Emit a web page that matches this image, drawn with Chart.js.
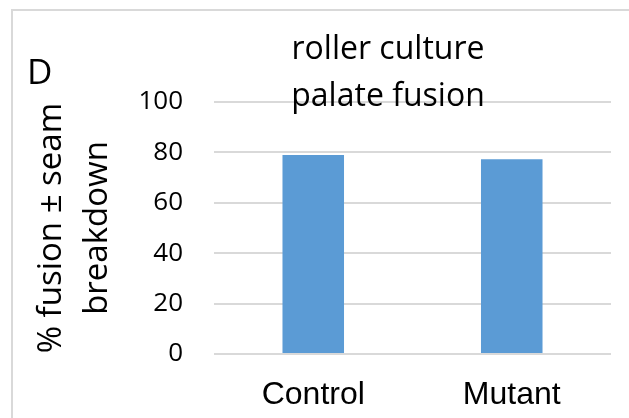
<!DOCTYPE html>
<html lang="en">
<head>
    <meta charset="UTF-8">
    <title>roller culture palate fusion</title>
    <style>
        body {
            margin: 0;
            background: #fff;
        }
        .wrap {
            position: relative;
            width: 629px;
            height: 418px;
            overflow: hidden;
        }
        .frame {
            position: absolute;
            left: 11px;
            top: 9px;
            width: 700px;
            height: 500px;
            border-left: 2px solid #d9d9d9;
            border-top: 2px solid #d9d9d9;
        }
        canvas {
            position: absolute;
            left: 0;
            top: 0;
        }
    </style>
</head>
<body>
    <div class="wrap">
        <div class="frame"></div>
        <canvas id="fusionChart" width="629" height="418"></canvas>
    </div>

    <script src="https://cdn.jsdelivr.net/npm/chart.js"></script>
    <script>
        const categories = ['Control', 'Mutant'];
        const fusionPct = [79, 77.3];
        const yTicks = [0, 20, 40, 60, 80, 100];
        const titleLines = ['roller culture', 'palate fusion'];
        const yTitleLines = ['% fusion \u00b1 seam', 'breakdown'];
        const panelLabel = 'D';

        // title and panel letter sit over the plot, so draw them by hand
        const overlayText = {
            id: 'overlayText',
            afterDraw(chart) {
                const ctx = chart.ctx;
                ctx.save();
                ctx.fillStyle = '#000';
                ctx.textBaseline = 'alphabetic';
                ctx.textAlign = 'left';
                ctx.font = '35px "Open Sans"';
                ctx.fillText(panelLabel, 27, 84);
                ctx.textAlign = 'center';
                ctx.font = '32px "Open Sans"';
                ctx.fillText(titleLines[0], 388, 59);
                ctx.fillText(titleLines[1], 388, 106);
                ctx.restore();
            }
        };

        const ctx = document.getElementById('fusionChart').getContext('2d');
        new Chart(ctx, {
            type: 'bar',
            data: {
                labels: categories,
                datasets: [{
                    data: fusionPct,
                    backgroundColor: '#5b9bd5',
                    borderWidth: 0,
                    barPercentage: 0.62,
                    categoryPercentage: 0.5
                }]
            },
            options: {
                responsive: false,
                animation: false,
                layout: {
                    padding: { top: 102, right: 18, bottom: 4, left: 8 }
                },
                plugins: {
                    legend: { display: false },
                    tooltip: { enabled: false }
                },
                scales: {
                    x: {
                        afterFit(scale) {
                            scale.height = 60;
                        },
                        grid: { display: false, drawTicks: false },
                        border: { display: false },
                        ticks: {
                            color: '#000',
                            padding: 22,
                            font: { family: '"Liberation Sans", Arial, sans-serif', size: 32 }
                        }
                    },
                    y: {
                        min: 0,
                        max: 100,
                        afterFit(scale) {
                            scale.width = 206;
                        },
                        afterBuildTicks(scale) {
                            scale.ticks = yTicks.map(v => ({ value: v }));
                        },
                        grid: {
                            color: '#d9d9d9',
                            lineWidth: 2,
                            drawTicks: false
                        },
                        border: { display: false },
                        ticks: {
                            color: '#000',
                            padding: 31,
                            font: { family: '"Open Sans"', size: 26 }
                        },
                        title: {
                            display: true,
                            text: yTitleLines,
                            color: '#000',
                            padding: { top: 21, bottom: 0 },
                            font: { family: '"Open Sans"', size: 33, lineHeight: 1.38 }
                        }
                    }
                }
            },
            plugins: [overlayText]
        });
    </script>
</body>
</html>
